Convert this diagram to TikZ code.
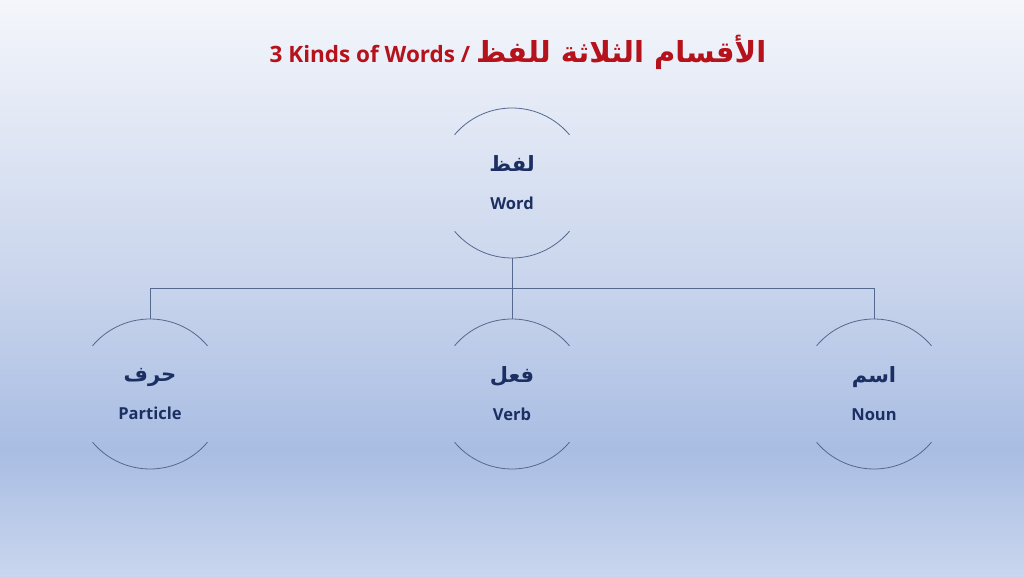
\documentclass[tikz,border=0pt]{standalone}
\usepackage{fontspec}
\setmainfont{Open Sans}
\newfontfamily\arabicfont[Script=Arabic]{DejaVu Sans}
\TeXXeTstate=1
\usetikzlibrary{calc}
\definecolor{titlered}{HTML}{B5121B}
\definecolor{labelblue}{HTML}{1B2F62}
\definecolor{linegray}{HTML}{55698F}
\definecolor{bgtop}{HTML}{F4F6FB}
\definecolor{bgmid}{HTML}{C8D4EC}
\definecolor{bglow}{HTML}{A9BDE3}
\definecolor{bgbot}{HTML}{C9D6EE}
\pgfdeclareverticalshading{slidebg}{100bp}{color(0bp)=(bgbot); color(25bp)=(bgbot); color(36bp)=(bglow); color(50bp)=(bgmid); color(75bp)=(bgtop); color(100bp)=(bgtop)}
\newcommand{\arword}[1]{{\arabicfont\fontsize{21}{25}\selectfont\beginR #1\endR}}

\begin{document}
\begin{tikzpicture}[x=1pt, y=1pt,
    item/.style={circle, minimum size=150pt, inner sep=0pt, align=center, text=labelblue, font=\bfseries\fontsize{16.5}{19}\selectfont},
    arcline/.style={draw=linegray, line width=0.8pt}]
    \shade[shading=slidebg] (0,0) rectangle (1024,576);
    \useasboundingbox (0,0) rectangle (1024,576);

    \node[text=titlered, font=\bfseries\fontsize{22.5}{27}\selectfont] (title) at (518, 524) {3 Kinds of Words / {\arabicfont\fontsize{29}{32}\selectfont\beginR الأقسام الثلاثة للفظ\endR}};

    \node[item] (word) at (512, 393) {\arword{لفظ}\\[19pt]Word};
    \node[item] (particle) at (150, 182) {\arword{حرف}\\[19pt]Particle};
    \node[item] (verb) at (512, 182) {\arword{فعل}\\[19pt]Verb};
    \node[item] (noun) at (874, 182) {\arword{اسم}\\[19pt]Noun};

    \foreach \n in {word, particle, verb, noun} {
        \draw[arcline] ($(\n.center)+(40:75)$) arc[start angle=40, end angle=140, radius=75];
        \draw[arcline] ($(\n.center)+(220:75)$) arc[start angle=220, end angle=320, radius=75];
    }

    \coordinate (bus) at ($(word.south)+(0,-30)$);
    \draw[arcline]
    (word.south) -- (bus)
    (bus -| particle) -- (bus -| noun)
    (bus -| particle) -- (particle.north)
    (bus -| verb) -- (verb.north)
    (bus -| noun) -- (noun.north);
\end{tikzpicture}
\end{document}
